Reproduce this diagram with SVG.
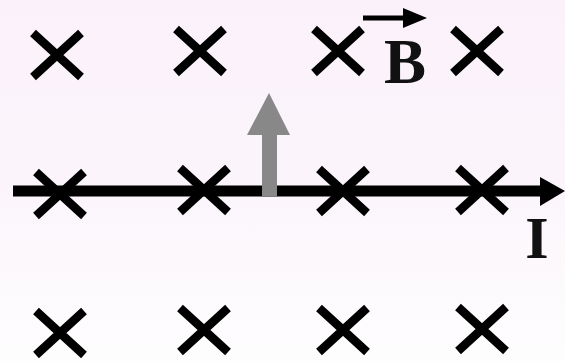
<svg xmlns="http://www.w3.org/2000/svg" width="565" height="361" viewBox="0 0 565 361">
  <defs>
    <linearGradient id="bg" x1="0" y1="0" x2="0" y2="1">
      <stop offset="0" stop-color="#fbf1fa"/>
      <stop offset="0.5" stop-color="#fbf5fb"/>
      <stop offset="1" stop-color="#fefdfe"/>
    </linearGradient>
    <path id="x" d="M-24,-22 L24,22 M24,-22 L-24,22"/>
  </defs>
  <style>
    .cross { stroke: #000; stroke-width: 8.5; fill: none; stroke-linecap: butt; }
    .lbl { font-family: "Liberation Serif", "Times New Roman", serif; font-weight: bold; fill: #111; }
  </style>
  <rect x="0" y="0" width="565" height="361" fill="url(#bg)"/>

  <g id="field">
    <use href="#x" class="cross" x="57" y="55"/>
    <use href="#x" class="cross" x="200" y="51"/>
    <use href="#x" class="cross" x="338" y="51"/>
    <use href="#x" class="cross" x="477" y="51"/>
    <use href="#x" class="cross" x="60" y="194"/>
    <use href="#x" class="cross" x="204" y="190"/>
    <use href="#x" class="cross" x="343" y="191"/>
    <use href="#x" class="cross" x="482" y="190"/>
    <use href="#x" class="cross" x="60" y="333"/>
    <use href="#x" class="cross" x="204" y="330"/>
    <use href="#x" class="cross" x="343" y="330"/>
    <use href="#x" class="cross" x="482" y="329"/>
  </g>

  <g id="connectors">
    <g id="wire">
      <line x1="13" y1="191" x2="542" y2="191" stroke="#000" stroke-width="11"/>
      <polygon points="540,177 565,191 540,206" fill="#000"/>
    </g>
    <g id="force">
      <rect x="262" y="133" width="15" height="63" fill="#888"/>
      <polygon points="269,93 290,135 247,135" fill="#888"/>
    </g>
  </g>

  <g id="label-B">
    <text class="lbl" x="405" y="83" font-size="63" text-anchor="middle">B</text>
    <line x1="363" y1="18" x2="407" y2="18" stroke="#000" stroke-width="5"/>
    <polygon points="403,8 427,18 403,28" fill="#000"/>
  </g>
  <g id="label-I">
    <text class="lbl" x="537" y="258" font-size="60" text-anchor="middle">I</text>
  </g>
</svg>
